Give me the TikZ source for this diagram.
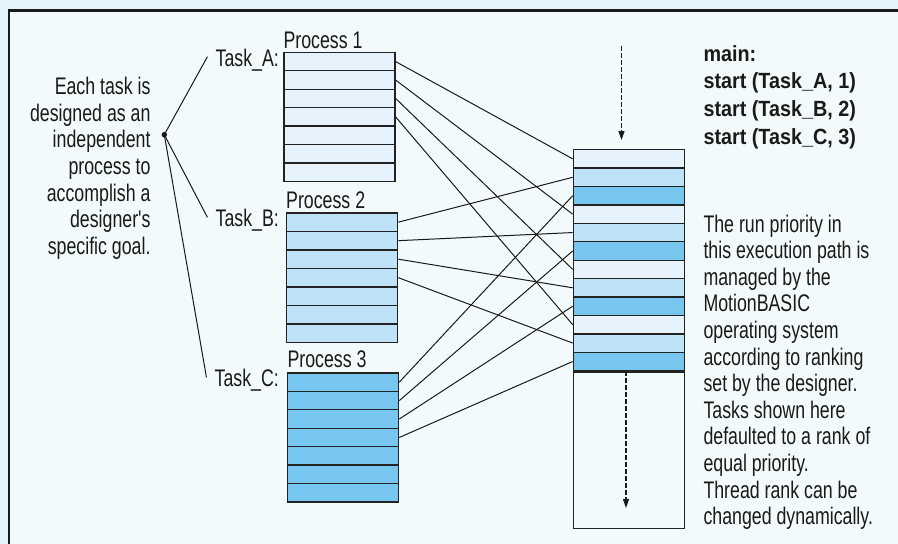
\documentclass[tikz,border=0pt]{standalone}
\usepackage{fontspec}
\setmainfont{Liberation Sans}
\newfontfamily\narrowfont{Liberation Sans}[FakeStretch=0.74]
\newfontfamily\codefont{Liberation Sans}[FakeStretch=0.9]
\usetikzlibrary{arrows.meta, positioning}
\definecolor{BGout}{HTML}{E3F4FA}
\definecolor{BGin}{HTML}{F2FAFC}
\definecolor{TaskA}{HTML}{E6F3FC}
\definecolor{TaskB}{HTML}{BEE2F7}
\definecolor{TaskC}{HTML}{76C6F0}
\definecolor{Ink}{HTML}{1A1A1A}
\definecolor{CellEdge}{HTML}{222222}

\begin{document}
\begin{tikzpicture}[x=1pt, y=-1pt,
    cell/.style={draw=CellEdge, line width=1.3pt, fill=#1, minimum width=111pt,
      minimum height=18.43pt, inner sep=0pt, anchor=north west},
    lbl/.style={font=\narrowfont\fontsize{24}{26.6}\selectfont, text=Ink, inner sep=0pt},
    code/.style={font=\codefont\bfseries\fontsize{22}{27.8}\selectfont, text=Ink, inner sep=0pt},
    link/.style={line width=1pt, draw=Ink},
    flow/.style={dash pattern=on 4.5pt off 2.5pt, line width=1.1pt, draw=Ink,
      -{Triangle[length=9pt,width=6pt]}}]
  % background and frame
  \useasboundingbox (0,0) rectangle (898,544);
  \fill[BGout] (0,0) rectangle (898,544);
  \fill[BGin] (9,10.3) rectangle (898,544);
  \draw[line width=2.8pt, Ink] (9,544) -- (9,10.3) -- (898,10.3);

  % process tables
  \foreach \r in {1,...,7}{
    \node[cell=TaskA] (p1r\r) at (283.3, {51.7+(\r-1)*18.43}) {};
    \node[cell=TaskB] (p2r\r) at (286, {212.3+(\r-1)*18.5}) {};
    \node[cell=TaskC] (p3r\r) at (287, {372.3+(\r-1)*18.43}) {};
  }
  \node[lbl, anchor=base west] (proc1) at (283.3,48.3) {Process 1};
  \node[lbl, anchor=base west] (proc2) at (286,208.3) {Process 2};
  \node[lbl, anchor=base west] (proc3) at (287.3,367.7) {Process 3};
  \node[lbl, anchor=base east] (taskA) at (279,66) {Task\_A:};
  \node[lbl, anchor=base east] (taskB) at (279,226.7) {Task\_B:};
  \node[lbl, anchor=base east] (taskC) at (279,386.7) {Task\_C:};

  % execution path
  \foreach \r/\c in {1/TaskA,2/TaskB,3/TaskC,4/TaskA,5/TaskB,6/TaskC,
                     7/TaskA,8/TaskB,9/TaskC,10/TaskA,11/TaskB,12/TaskC}{
    \node[cell=\c] (ex\r) at (572.7, {149+(\r-1)*18.42}) {};
  }
  \node[cell=BGin, anchor=north, minimum height=156.7pt, below=0pt of ex12] (extail) {};

  % threads into the path
  \foreach \i in {1,...,4}{
    \pgfmathtruncatemacro\ka{3*(\i-1)+1}
    \pgfmathtruncatemacro\kb{3*(\i-1)+2}
    \pgfmathtruncatemacro\kc{3*\i}
    \draw[link] (p1r\i.east) -- (ex\ka.west);
    \draw[link] (p2r\i.east) -- (ex\kb.west);
    \draw[link] (p3r\i.east) -- (ex\kc.west);
  }

  \coordinate (entry) at (621.5,46);
  \coordinate (tailend) at (626,508);
  \draw[flow, shorten >=9pt] (entry) -- (entry |- ex1.north);
  \draw[flow] (extail.north -| tailend) -- (tailend);

  % explanation on the left
  \node[lbl, align=right, anchor=north east] (goal) at (150.7,77.1)
    {Each task is\\designed as an\\independent\\process to\\accomplish a\\designer's\\specific goal.};
  \node[circle, fill=Ink, inner sep=0pt, minimum size=5.5pt] (hub) at (164.3,134.7) {};
  \draw[link] (hub.center) -- ([xshift=-8pt,yshift=3pt]taskA.west);
  \draw[link] (hub.center) -- ([xshift=-8pt,yshift=3pt]taskB.west);
  \draw[link] (hub.center) -- ([xshift=-8pt,yshift=3pt]taskC.west);

  % code and notes on the right
  \node[code, align=left, anchor=north west] (mainprog) at (703.3,45)
    {main:\\start (Task\_A, 1)\\start (Task\_B, 2)\\start (Task\_C, 3)};
  \node[lbl, align=left, anchor=north west] (notes) at (703.3,214.5)
    {The run priority in\\this execution path is\\managed by the\\MotionBASIC\\operating system\\according to ranking\\set by the designer.\\Tasks shown here\\defaulted to a rank of\\equal priority.\\Thread rank can be\\changed dynamically.};
\end{tikzpicture}
\end{document}
